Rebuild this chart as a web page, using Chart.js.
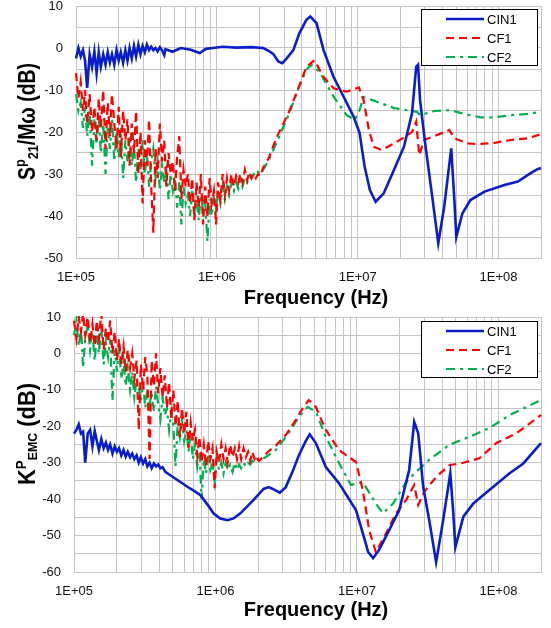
<!DOCTYPE html>
<html>
<head>
<meta charset="utf-8">
<script src="https://cdn.jsdelivr.net/npm/chart.js@4.4.1/dist/chart.umd.min.js"></script>
<style>
  html, body { margin: 0; padding: 0; background: #fff; }
  body { width: 551px; height: 628px; position: relative; overflow: hidden; }
  canvas { position: absolute; left: 0; }
  #c1 { top: 0; }
  #c2 { top: 306px; }
</style>
</head>
<body>
<canvas id="c1" width="551" height="314"></canvas>
<canvas id="c2" width="551" height="322"></canvas>
<script>
// ---------------- DATA ----------------
const seriesNames = ['CIN1', 'CF1', 'CF2'];
const xTitleText = 'Frequency (Hz)';
const topYTitleParts = ['S', 'p', '21', '/Mω (dB)'];
const botYTitleParts = ['K', 'P', 'EMC', ' (dB)'];

// x-axis tick / grid values and labels
const xGridVals = [1e5,2e5,3e5,4e5,5e5,6e5,7e5,8e5,9e5,
                   1e6,2e6,3e6,4e6,5e6,6e6,7e6,8e6,9e6,
                   1e7,2e7,3e7,4e7,5e7,6e7,7e7,8e7,9e7,
                   1e8,2e8];
const xLabelVals = [1e5, 1e6, 1e7, 1e8];
const xLabelText = ['1E+05', '1E+06', '1E+07', '1E+08'];

// shared low-frequency sample points (noisy region)
const lowFreq = [1.00e5,1.04e5,1.08e5,1.12e5,1.16e5,1.20e5,1.25e5,1.30e5,1.35e5,1.40e5,
  1.45e5,1.50e5,1.56e5,1.62e5,1.68e5,1.74e5,1.80e5,1.87e5,1.94e5,2.01e5,
  2.08e5,2.16e5,2.24e5,2.32e5,2.40e5,2.49e5,2.58e5,2.67e5,2.77e5,2.87e5,
  2.97e5,3.08e5,3.19e5,3.30e5,3.42e5,3.54e5,3.67e5,3.80e5,3.94e5,4.08e5,
  4.23e5,4.38e5,4.54e5,4.70e5,4.87e5,5.04e5,5.22e5,5.41e5,5.60e5,5.80e5,
  6.01e5,6.23e5,6.45e5,6.68e5,6.92e5,7.17e5,7.43e5,7.70e5,7.98e5,8.27e5,
  8.57e5,8.88e5,9.20e5,9.53e5,9.87e5,1.02e6,1.06e6,1.10e6,1.14e6,1.18e6,
  1.22e6,1.27e6,1.32e6,1.37e6,1.42e6,1.47e6,1.52e6,1.58e6,1.64e6,1.70e6,
  1.76e6,1.82e6,1.89e6,1.96e6,2.03e6];

// ---- Top chart: S21/Mw ----
const topCin1LowDb = [-2.5,0,-2,-0.5,-3,-9.5,-1.5,-4.5,-0.8,-6,
  -1,-4.5,-1.5,-4,-1,-3.5,-1.5,-4,-0.5,-3,
  -1,-3.5,-0.5,-3,0,-2.5,0.5,-2,0.8,-1.5,
  0.5,-1,0.8,-0.5,0.3,-0.5,0,-0.8,0.2,-0.5,-1.7];
const topCin1HiFreq = [4.32e5,4.85e5,5.53e5,6.52e5,7.56e5,8.35e5,9.36e5,1.10e6,1.37e6,1.75e6,
  2.13e6,2.31e6,2.51e6,2.73e6,2.91e6,3.11e6,3.49e6,3.85e6,4.32e6,4.61e6,
  5.10e6,5.72e6,6.74e6,7.94e6,9.36e6,1.03e7,1.12e7,1.22e7,1.34e7,1.53e7,
  1.81e7,2.13e7,2.43e7,2.60e7,2.68e7,2.77e7,3.01e7,3.38e7,3.73e7,4.11e7,
  4.39e7,4.61e7,4.85e7,5.01e7,5.53e7,6.31e7,7.94e7,1.10e8,1.37e8,1.69e8,1.90e8,2.0e8];
const topCin1HiDb = [-0.3,-0.9,0,-0.4,-1.2,-0.2,0,0.3,0.1,0.2,
  0,-0.6,-1.4,-3.2,-3.6,-2.6,-0.5,3.5,6.7,7.5,
  5.9,-0.5,-6.9,-11.6,-16.4,-20.2,-28.3,-33.8,-36.6,-34.6,
  -29,-23.5,-15.5,-4.5,-4,-12.4,-22.7,-35.4,-46.5,-37.8,
  -29.8,-23.9,-36,-45,-39.4,-36.2,-34.2,-32.6,-31.8,-29.8,-28.8,-28.6];

const topCf1LowDb = [-6,-12,-8,-15,-10, -18,-11,-20,-14,-22, -12,-19,-10,-24,-13,
  -21,-11,-18,-24,-14, -26,-15,-22,-17,-28, -18,-25,-15,-30,-20,
  -37,-22,-28,-17,-33, -44,-24,-31,-18,-27, -22,-33,-25,-30,-27,
  -34,-26,-21,-36,-29, -33,-30,-37,-31,-41, -32,-38,-30,-42,-33,
  -40,-31,-37,-34,-42, -32,-36,-30,-35,-31, -34,-30,-33,-30.5,-32,
  -30,-32,-29,-31.5,-29.5, -31,-30,-31,-30,-30.5];
const topCf1HiFreq = [2.13e6,2.35e6,2.64e6,3.27e6,3.85e6,4.32e6,4.93e6,5.72e6,6.74e6,8.35e6,
  1.02e7,1.10e7,1.20e7,1.30e7,1.48e7,1.81e7,2.13e7,2.43e7,2.60e7,2.73e7,
  2.96e7,3.66e7,4.47e7,4.85e7,6.01e7,7.08e7,9.36e7,1.22e8,1.61e8,2.0e8];
const topCf1HiDb = [-28.5,-26,-21.5,-15,-9,-4.5,-2.9,-6.9,-9.6,-10.4,
  -9.4,-12.4,-19.5,-23.5,-24.3,-22.7,-21.3,-20,-17.5,-25.5,
  -21.9,-20.7,-19.5,-21.5,-22.7,-22.9,-22.6,-21.9,-21.5,-20.5];

const topCf2LowDb = [-11,-15,-13,-19,-14, -21,-15,-28,-17,-23, -16,-25,-18,-30,-19,
  -24,-17,-27,-20,-26, -19,-31,-22,-27,-21, -28,-23,-32,-24,-29,
  -22,-30,-25,-33,-27, -24,-31,-27,-34,-28, -32,-29,-36,-30,-34,
  -31,-38,-32,-42,-33, -37,-35,-40,-34,-39, -36,-41,-35,-39,-37,
  -46,-36,-40,-35,-38, -34,-37,-33,-36,-33, -35,-32,-34,-32,-33.5,
  -31.5,-33,-31,-32,-30.5, -31,-30,-30.5,-29.5,-30];
const topCf2HiFreq = [2.13e6,2.35e6,2.64e6,3.27e6,3.85e6,4.32e6,4.69e6,5.36e6,6.74e6,8.35e6,
  9.53e6,1.03e7,1.10e7,1.37e7,1.81e7,2.64e7,2.77e7,3.49e7,4.54e7,5.72e7,
  7.43e7,9.36e7,1.22e8,1.61e8,2.0e8];
const topCf2HiDb = [-29,-26.5,-22.7,-15.5,-9,-5.2,-4.0,-5.7,-11.6,-16,
  -17.1,-14.8,-11.7,-12.8,-14.3,-15.2,-16,-15,-14.8,-15.7,
  -16.5,-16.5,-16,-15.7,-15.2];

// ---- Bottom chart: K_EMC ----
const botCin1LowDb = [-22,-21,-19.5,-22,-21.5,-30,-22,-21,-25.5,-21.3,
  -24,-26.5,-23.5,-26,-24.5,-26.5,-25,-27.5,-25.5,-27,
  -26,-28,-26.5,-28.3,-27,-28.5,-27.5,-29,-28,-30,
  -28.5,-30.2,-29,-31,-30,-31.5,-30.2,-31,-30.5,-31.5,-31.2];
const botCin1HiFreq = [4.42e5,5.03e5,5.65e5,6.33e5,7.10e5,7.83e5,8.78e5,9.68e5,1.08e6,1.22e6,
  1.34e6,1.50e6,1.86e6,2.19e6,2.38e6,2.54e6,2.85e6,3.14e6,3.52e6,3.88e6,
  4.35e6,4.64e6,5.12e6,6.03e6,7.45e6,9.84e6,1.10e7,1.20e7,1.30e7,1.43e7,
  1.69e7,1.99e7,2.34e7,2.54e7,2.71e7,2.94e7,3.24e7,3.63e7,4.07e7,4.42e7,
  4.57e7,4.80e7,4.96e7,5.65e7,6.65e7,8.63e7,1.20e8,1.50e8,2.0e8];
const botCin1HiDb = [-32.5,-34,-35.3,-36.6,-37.8,-38.9,-41.5,-43.9,-45.3,-45.8,
  -45.3,-43.9,-40.2,-37.2,-36.7,-37.2,-38.2,-36.7,-32.3,-28,
  -24,-22.2,-24.6,-31.2,-35.6,-43,-49.3,-54.5,-56.2,-54,
  -48.5,-43,-32,-18.8,-21.9,-36.6,-45.7,-57.3,-45.7,-36.6,
  -32.9,-43.9,-53.2,-44.8,-41.2,-37.5,-32.9,-30.2,-24.6];

const botCf1LowDb = [9,4,10,6,11, 5,10,3,8,2, 9,4,11,1,7,
  3,9,0,6,-2, 4,-3,2,-5,1, -4,0,-7,-2,-21,
  -3,-10,-1,-6,-29, -2,-9,0,-11,-4, -12,-6,-15,-8,-18,
  -10,-20,-13,-23,-15, -22,-16,-26,-19,-24, -21,-28,-23,-30,-25,
  -31,-24,-29,-26,-37, -27,-30,-25,-29,-26, -30,-25,-28.5,-26,-29,
  -25.5,-29,-26,-28.5,-27, -29.5,-27,-29,-28,-29.5];
const botCf1HiFreq = [2.19e6,2.38e6,2.67e6,3.14e6,3.69e6,4.14e6,4.57e6,5.12e6,6.03e6,7.45e6,
  9.84e6,1.10e7,1.22e7,1.36e7,1.61e7,1.89e7,2.23e7,2.54e7,2.71e7,2.99e7,
  3.63e7,4.49e7,5.65e7,7.33e7,9.68e7,1.34e8,2.0e8];
const botCf1HiDb = [-28.3,-26.8,-25.3,-22.4,-18.3,-15,-12.8,-14.7,-21,-26.5,
  -29.8,-37.5,-48.5,-54.5,-49.3,-43.9,-40.2,-36.1,-41.6,-38,
  -33.9,-30.7,-30,-28.8,-24.6,-21.9,-16.9];

const botCf2LowDb = [5,9,2,7,-4, 4,8,1,6,-2, 5,0,7,-3,3,
  -1,4,-13,1,-5, 2,-7,-2,-9,-4, -10,-5,-12,-7,-9,
  -13,-8,-15,-10,-14, -11,-16,-9,-14,-18, -12,-17,-15,-21,-16,
  -20,-31,-19,-23,-18, -24,-21,-27,-22,-29, -25,-31,-27,-40,-29,
  -33,-28,-32,-30,-35, -29,-32,-30,-33,-30, -32,-30.5,-32.5,-30,-32,
  -30.5,-31.5,-30,-31,-30, -30.5,-29.5,-30,-29,-29.5];
const botCf2HiFreq = [2.26e6,2.67e6,3.29e6,3.88e6,4.49e6,5.12e6,6.03e6,7.45e6,9.06e6,1.10e7,
  1.36e7,1.53e7,1.80e7,2.23e7,2.62e7,3.24e7,4.49e7,6.23e7,8.63e7,1.20e8,2.0e8];
const botCf2HiDb = [-28.5,-26.5,-21.9,-17.5,-14.7,-16,-22.9,-30,-36.1,-35.3,
  -41.2,-43.9,-41.2,-35.3,-32.5,-29.2,-25.1,-22.9,-20.5,-16.9,-12.8];

// ---------------- BUILD ----------------
function pts(lowDb, hiFreq, hiDb) {
  const a = lowDb.map((v, i) => ({ x: lowFreq[i], y: v }));
  const b = hiDb.map((v, i) => ({ x: hiFreq[i], y: v }));
  return a.concat(b);
}

const FONT = '"Liberation Sans", Arial, sans-serif';
const styles = [
  { borderColor: '#0A1EC8', borderWidth: 2.6, borderDash: [] },
  { borderColor: '#FF0000', borderWidth: 2.2, borderDash: [8, 5] },
  { borderColor: '#00B050', borderWidth: 2.2, borderDash: [9, 5, 3, 5] }
];

const legendPlugin = {
  id: 'boxLegend',
  afterDraw(chart, args, o) {
    const ctx = chart.ctx;
    ctx.save();
    ctx.fillStyle = '#fff';
    ctx.fillRect(o.x, o.y, o.w, o.h);
    ctx.strokeStyle = '#000';
    ctx.lineWidth = 1;
    ctx.setLineDash([]);
    ctx.strokeRect(o.x + 0.5, o.y + 0.5, o.w, o.h);
    chart.data.datasets.forEach((ds, i) => {
      const ly = o.y + o.rows[i];
      ctx.beginPath();
      ctx.setLineDash(ds.borderDash || []);
      ctx.strokeStyle = ds.borderColor;
      ctx.lineWidth = ds.borderWidth;
      ctx.moveTo(o.x + 25, ly);
      ctx.lineTo(o.x + 63, ly);
      ctx.stroke();
      ctx.setLineDash([]);
      ctx.fillStyle = '#000';
      ctx.font = '13px ' + FONT;
      ctx.textBaseline = 'middle';
      ctx.textAlign = 'left';
      ctx.fillText(ds.label, o.x + 66, ly + 1);
    });
    ctx.restore();
  }
};

const titlePlugin = {
  id: 'richTitles',
  afterDraw(chart, args, o) {
    const ctx = chart.ctx;
    ctx.save();
    ctx.fillStyle = '#000';
    ctx.font = 'bold 20px ' + FONT;
    ctx.textAlign = 'center';
    ctx.textBaseline = 'middle';
    ctx.fillText(xTitleText, o.xTitleX, o.xTitleY);
    ctx.textAlign = 'left';
    ctx.textBaseline = 'alphabetic';
    ctx.translate(o.yBaseX, o.yStartY);
    ctx.rotate(-Math.PI / 2);
    let total = 0;
    const parts = o.parts.map((t, i) => {
      const f = 'bold ' + o.sizes[i] + 'px ' + FONT;
      ctx.font = f;
      const w = ctx.measureText(t).width;
      total += w;
      return { t, f, w, dy: o.dys[i] };
    });
    ctx.scale(o.yLength / total, 1);
    let x = 0;
    parts.forEach(p => { ctx.font = p.f; ctx.fillText(p.t, x, p.dy); x += p.w; });
    ctx.restore();
  }
};

function makeChart(id, data3, yMin, yMax, yWidth, padTop, xHeight, legendY, titleCfg) {
  return new Chart(document.getElementById(id), {
    type: 'line',
    data: {
      datasets: data3.map((d, i) => Object.assign({
        label: seriesNames[i],
        data: d,
        pointRadius: 0,
        pointHoverRadius: 0,
        fill: false,
        tension: 0,
        clip: 1
      }, styles[i]))
    },
    options: {
      responsive: false,
      maintainAspectRatio: false,
      animation: false,
      events: [],
      layout: { padding: { left: 0, right: 10, top: padTop, bottom: 0 } },
      plugins: {
        legend: { display: false },
        tooltip: { enabled: false },
        boxLegend: { x: 421, y: legendY, w: 116, h: 56, rows: [10, 29, 48] },
        richTitles: titleCfg
      },
      scales: {
        x: {
          type: 'logarithmic',
          min: 1e5, max: 2e8,
          afterBuildTicks: s => { s.ticks = xGridVals.map(v => ({ value: v })); },
          afterFit: s => { s.height = xHeight; s.paddingLeft = 0; s.paddingRight = 0; },
          grid: { color: '#C4C4C4', lineWidth: 1, drawTicks: false },
          border: { display: true, color: '#C4C4C4' },
          ticks: {
            autoSkip: false, maxRotation: 0, padding: 12,
            color: '#111', font: { family: FONT, size: 13 },
            callback: v => {
              const k = xLabelVals.findIndex(t => Math.abs(t - v) / t < 1e-6);
              return k >= 0 ? xLabelText[k] : '';
            }
          },
          title: { display: false }
        },
        y: {
          min: yMin, max: yMax,
          afterFit: s => { s.width = yWidth; s.paddingTop = 0; s.paddingBottom = 0; },
          grid: { color: '#C4C4C4', lineWidth: 1, drawTicks: false },
          border: { display: true, color: '#C4C4C4' },
          ticks: {
            stepSize: 5, padding: 13, autoSkip: false,
            color: '#111', font: { family: FONT, size: 13 },
            callback: v => (v % 10 === 0 ? String(v) : '')
          },
          title: { display: false }
        }
      }
    },
    plugins: [legendPlugin, titlePlugin]
  });
}

makeChart('c1', [
    pts(topCin1LowDb, topCin1HiFreq, topCin1HiDb),
    pts(topCf1LowDb, topCf1HiFreq, topCf1HiDb),
    pts(topCf2LowDb, topCf2HiFreq, topCf2HiDb)
  ], -50, 10, 76, 6, 56, 9,
  { xTitleX: 316, xTitleY: 298, yBaseX: 35, yStartY: 180, yLength: 117,
    parts: topYTitleParts, sizes: [23, 15, 15, 23], dys: [0, -10, 3, 0] });

makeChart('c2', [
    pts(botCin1LowDb, botCin1HiFreq, botCin1HiDb),
    pts(botCf1LowDb, botCf1HiFreq, botCf1HiDb),
    pts(botCf2LowDb, botCf2HiFreq, botCf2HiDb)
  ], -60, 10, 74, 11, 56, 15,
  { xTitleX: 316, xTitleY: 304, yBaseX: 35, yStartY: 179, yLength: 102,
    parts: botYTitleParts, sizes: [23, 14, 13, 23], dys: [0, -9, 2, 0] });
</script>
</body>
</html>
